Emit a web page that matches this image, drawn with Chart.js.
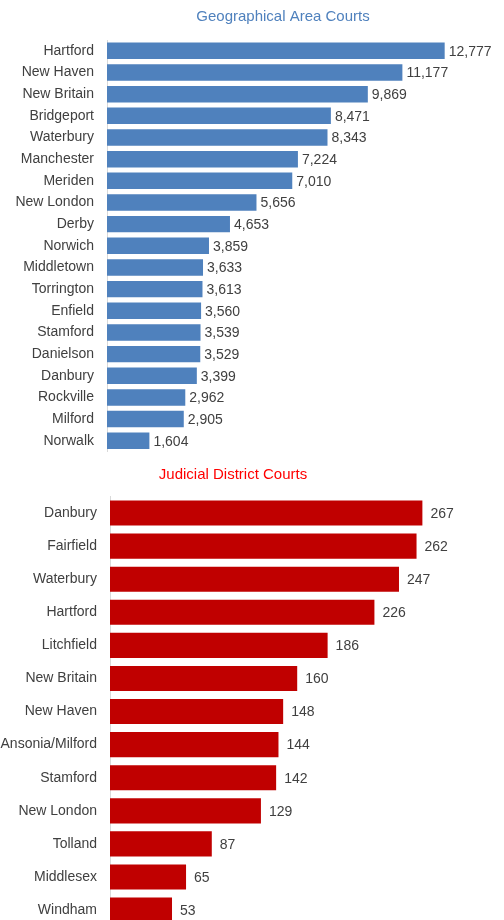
<!DOCTYPE html>
<html>
<head>
<meta charset="utf-8">
<script src="https://cdn.jsdelivr.net/npm/chart.js@4.4.1/dist/chart.umd.min.js"></script>
<style>
  html, body { margin: 0; padding: 0; background: #fff; overflow: hidden; }
  #wrap { position: relative; width: 504px; height: 920px; overflow: hidden; }
  canvas { position: absolute; left: 0; }
  #gaCanvas { top: 0; }
  #jdCanvas { top: 462px; }
</style>
</head>
<body>
<div id="wrap">
  <canvas id="gaCanvas" width="504" height="465"></canvas>
  <canvas id="jdCanvas" width="504" height="478"></canvas>
</div>
<script>
const gaCourts = ['Hartford', 'New Haven', 'New Britain', 'Bridgeport', 'Waterbury', 'Manchester',
  'Meriden', 'New London', 'Derby', 'Norwich', 'Middletown', 'Torrington', 'Enfield',
  'Stamford', 'Danielson', 'Danbury', 'Rockville', 'Milford', 'Norwalk'];
const gaCases = [12777, 11177, 9869, 8471, 8343, 7224, 7010, 5656, 4653, 3859, 3633, 3613, 3560,
  3539, 3529, 3399, 2962, 2905, 1604];

const jdCourts = ['Danbury', 'Fairfield', 'Waterbury', 'Hartford', 'Litchfield', 'New Britain',
  'New Haven', 'Ansonia/Milford', 'Stamford', 'New London', 'Tolland', 'Middlesex', 'Windham'];
const jdCases = [267, 262, 247, 226, 186, 160, 148, 144, 142, 129, 87, 65, 53];

const textFont = { family: "'Liberation Sans', Arial, sans-serif", size: 14 };
const textColor = '#404040';

// number next to the end of every bar
const valueLabels = {
  id: 'valueLabels',
  afterDatasetsDraw(chart, args, opts) {
    const ctx = chart.ctx;
    const meta = chart.getDatasetMeta(0);
    const values = chart.data.datasets[0].data;
    ctx.save();
    ctx.font = textFont.size + 'px ' + textFont.family;
    ctx.fillStyle = textColor;
    ctx.textAlign = 'left';
    ctx.textBaseline = 'middle';
    meta.data.forEach((bar, i) => {
      ctx.fillText(values[i].toLocaleString('en-US'), bar.x + opts.gap, bar.y + 1);
    });
    ctx.restore();
  }
};

// chart heading, placed over the bars
const heading = {
  id: 'heading',
  afterDraw(chart, args, opts) {
    const ctx = chart.ctx;
    ctx.save();
    ctx.font = '15px ' + textFont.family;
    ctx.fillStyle = opts.color;
    ctx.textAlign = 'center';
    ctx.textBaseline = 'middle';
    ctx.fillText(opts.text, opts.x, opts.y);
    ctx.restore();
  }
};

function courtChart(canvas, labels, values, cfg) {
  return new Chart(canvas, {
    type: 'bar',
    data: {
      labels: labels,
      datasets: [{
        data: values,
        backgroundColor: cfg.barColor,
        borderWidth: 0,
        barPercentage: cfg.barPct,
        categoryPercentage: 1
      }]
    },
    options: {
      indexAxis: 'y',
      responsive: false,
      animation: false,
      layout: { padding: cfg.padding },
      scales: {
        x: { display: false, min: 0, max: cfg.max },
        y: {
          grid: { display: false },
          border: { display: true, color: '#d9d9d9', width: 1 },
          ticks: { color: textColor, font: textFont, padding: 5 },
          afterFit(scale) { scale.width = cfg.axisWidth; }
        }
      },
      plugins: {
        legend: { display: false },
        tooltip: { enabled: false },
        title: { display: false },
        valueLabels: { gap: cfg.gap },
        heading: cfg.heading
      }
    },
    plugins: [valueLabels, heading]
  });
}

courtChart(document.getElementById('gaCanvas'), gaCourts, gaCases, {
  barColor: '#4f81bd',
  barPct: 0.76,
  max: 14000,
  axisWidth: 107,
  gap: 4,
  padding: { top: 40, bottom: 0, left: 0, right: 27 },
  heading: { text: 'Geographical Area Courts', color: '#4f81bd', x: 283, y: 17 }
});

courtChart(document.getElementById('jdCanvas'), jdCourts, jdCases, {
  barColor: '#c00000',
  barPct: 0.76,
  max: 300,
  axisWidth: 110,
  gap: 8,
  padding: { top: 34.5, bottom: 0, left: 0, right: 43 },
  heading: { text: 'Judicial District Courts', color: '#ff0000', x: 233, y: 13 }
});
</script>
</body>
</html>
